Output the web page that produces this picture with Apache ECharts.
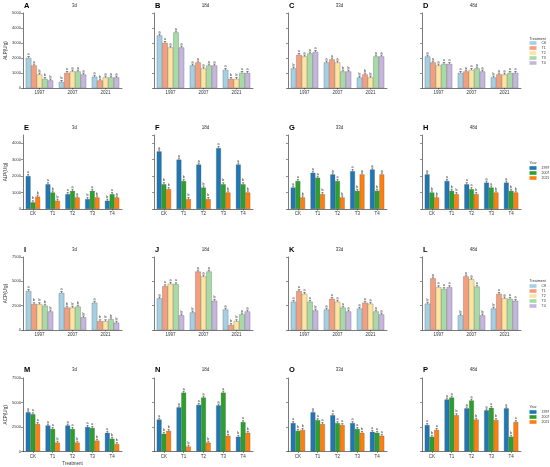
<!DOCTYPE html>
<html><head><meta charset="utf-8">
<script src="https://cdn.jsdelivr.net/npm/echarts@6/dist/echarts.min.js"></script>
<style>html,body{margin:0;padding:0;background:#fff}#c{width:550px;height:467px}</style>
</head><body><div id="c"></div>
<script>
const years = ['1997','2007','2021'];
const treatments = ['CK','T1','T2','T3','T4'];
const days = ['3d','18d','33d','48d'];
const panelTags = ['A','B','C','D','E','F','G','H','I','J','K','L','M','N','O','P'];
const yNames = ['ALP(U/g)','ALP(U/g)','ACP(U/g)','ACP(U/g)'];
const yMaxes = [5000,4500,7500,7500];
const yIntervals = [1000,1000,2500,2500];

// values: rows = CK,T1,T2,T3,T4 ; columns = 1997,2007,2021
const alp3d  = [[2000,400,750],[1500,1000,500],[900,1100,700],[600,1100,700],[500,900,700]];
const alp18d = [[3500,1500,1200],[3000,1700,600],[2700,1300,600],[3700,1500,1000],[2700,1500,1000]];
const alp33d = [[1300,1700,700],[2200,1900,900],[2100,1700,700],[2300,1100,2100],[2400,1100,2100]];
const alp48d = [[2100,1000,700],[1700,1100,900],[1500,1200,900],[1600,1300,1000],[1600,1100,1000]];
const acp3d  = [[4000,3800,2800],[2650,2300,900],[2650,2300,900],[2500,2400,1100],[1900,1300,750]];
const acp18d = [[3250,1800,2100],[4500,6000,500],[4750,5500,900],[4700,6000,1600],[1500,3000,1900]];
const acp33d = [[2900,2100,2200],[4000,3200,2800],[3700,2900,2700],[2900,2300,1900],[2000,1900,1600]];
const acp48d = [[2700,1500,2200],[5300,5500,3700],[4400,5200,3250],[4200,4450,3200],[4400,1500,3000]];

const errAlp = 100;
const errAcp = 150;

// significance letters, one string per category group
const lettersA = ['aabbb','baaaa','abaaa'];
const lettersB = ['aaaaa','aaaaa','abbaa'];
const lettersC = ['baaaa','aaabb','bbbaa'];
const lettersD = ['aaaaa','aaaaa','baaaa'];
const lettersE = ['abb','abb','aaa','bab','baa'];
const lettersF = ['abb','abb','abb','abb','abb'];
const lettersG = ['aab','aab','aab','aba','aba'];
const lettersH = ['abb','abb','aab','aab','abb'];
const lettersI = ['abbbb','abbbb','abbbb'];
const lettersJ = ['aaaab','baaab','abbaa'];
const lettersK = ['aaaab','aaaaa','aaaaa'];
const lettersL = ['baaaa','baaab','baaaa'];
const lettersM = ['aaa','aab','aab','aab','abb'];
const lettersN = ['abb','aab','aab','aab','bab'];
const lettersO = ['abb','aaa','aaa','aab','aaa'];
const lettersP = ['aba','aab','aab','aab','aba'];

const treatColors = ['#a5cfe3','#f59e7e','#fde4a0','#a6dba6','#c6b6de'];
const yearColors = ['#1f77b4','#2ca02c','#ff7f0e'];

const rowData = [
  [alp3d,alp18d,alp33d,alp48d],
  [alp3d,alp18d,alp33d,alp48d],
  [acp3d,acp18d,acp33d,acp48d],
  [acp3d,acp18d,acp33d,acp48d]
];
const rowLetters = [
  [lettersA,lettersB,lettersC,lettersD],
  [lettersE,lettersF,lettersG,lettersH],
  [lettersI,lettersJ,lettersK,lettersL],
  [lettersM,lettersN,lettersO,lettersP]
];
const rowErr = [errAlp, errAlp, errAcp, errAcp];

// layout
const colLeft = [23,154,288,422];
const gridW = 99;
const rowTop = [13,135,257,378];
const rowH = [75,74,73,73.5];
const titleY = [6,128,249.5,370];

const FONT = 'Liberation Sans, Arial, sans-serif';
const grids = [], xAxes = [], yAxes = [], series = [], graphics = [];

for (let r = 0; r < 4; r++) {
  for (let c = 0; c < 4; c++) {
    const gi = r*4 + c;
    const byTreat = (r % 2 === 0);
    const cats = byTreat ? years : treatments;
    const names = byTreat ? treatments : years;
    const colors = byTreat ? treatColors : yearColors;
    const gapRatio = byTreat ? 0.17 : 0.28;
    const tbl = rowData[r][c];
    const lts = rowLetters[r][c];
    const err = rowErr[r];
    grids.push({left: colLeft[c], top: rowTop[r], width: gridW, height: rowH[r]});
    xAxes.push({
      type:'category', gridIndex: gi, data: cats,
      axisLine:{show:true, lineStyle:{color:'#222', width:0.6}},
      axisTick:{show:true, alignWithLabel:true, length:1.5, lineStyle:{color:'#222', width:0.5}},
      axisLabel:{fontSize:4.5, margin:2.5, color:'#333', fontFamily: FONT},
      name: gi === 12 ? 'Treatment' : '', nameLocation:'middle', nameGap:9.5,
      nameTextStyle:{fontSize:4.5, color:'#333', fontFamily: FONT}
    });
    yAxes.push({
      type:'value', gridIndex: gi, min:0, max: yMaxes[r], interval: yIntervals[r],
      axisLine:{show:true, lineStyle:{color:'#222', width:0.6}},
      axisTick:{show:true, length:2, lineStyle:{color:'#222', width:0.5}},
      axisLabel:{show: c === 0, fontSize:4, margin:2, color:'#333', fontFamily: FONT,
                 showMaxLabel: r !== 1, formatter: v => String(v)},
      splitLine:{show:false},
      name: c === 0 ? yNames[r] : '', nameLocation:'middle', nameGap:13.5,
      nameTextStyle:{fontSize:4.5, color:'#333', fontFamily: FONT}
    });
    const n = names.length;
    for (let s = 0; s < n; s++) {
      const vals = byTreat ? tbl[s].slice() : tbl.map(row => row[s]);
      series.push({
        type:'bar', name: names[s], xAxisIndex: gi, yAxisIndex: gi, data: vals,
        barGap:'0%', barCategoryGap: (gapRatio*100) + '%',
        itemStyle:{color: colors[s], borderColor:'#555', borderWidth:0.3},
        animation:false
      });
      series.push({
        type:'custom', xAxisIndex: gi, yAxisIndex: gi,
        data: vals.map((v,i) => [i, v]), z: 5, animation:false, silent:true,
        renderItem: (params, api) => {
          const i = params.dataIndex;
          const v = vals[i];
          const p0 = api.coord([i, v]);
          const p1 = api.coord([i, v + err]);
          const band = api.size([1,0])[0];
          const groupW = band*(1-gapRatio);
          const bw = groupW/n;
          const x = p0[0] - groupW/2 + bw*(s+0.5);
          const cap = bw*0.22;
          const lt = lts[i].charAt(s);
          return {type:'group', children:[
            {type:'line', shape:{x1:x, y1:p0[1], x2:x, y2:p1[1]}, style:{stroke:'#222', lineWidth:0.5}},
            {type:'line', shape:{x1:x-cap, y1:p1[1], x2:x+cap, y2:p1[1]}, style:{stroke:'#222', lineWidth:0.5}},
            {type:'text', x:x, y:p1[1]-0.3, style:{text:lt, font:'3.6px ' + FONT, align:'center', verticalAlign:'bottom', fill:'#222'}}
          ]};
        }
      });
    }
    graphics.push({type:'text', x: colLeft[c] + 1, y: titleY[r], style:{text: panelTags[gi], font:'bold 7.5px ' + FONT, align:'left', verticalAlign:'middle', fill:'#000'}});
    graphics.push({type:'text', x: colLeft[c] + gridW/2 + 2, y: titleY[r], style:{text: days[c], font:'4.5px ' + FONT, align:'center', verticalAlign:'middle', fill:'#333'}});
  }
}

// legend titles
const legTitleY = [38.5, 163, 281, 407];
const legTitles = ['Treatment','Year','Treatment','Year'];
for (let r = 0; r < 4; r++) {
  graphics.push({type:'text', x: 529.5, y: legTitleY[r], style:{text: legTitles[r], font:'3.6px ' + FONT, align:'left', verticalAlign:'middle', fill:'#333'}});
}
const legTops = [41, 166, 284, 410];
const legends = legTops.map((t, r) => {
  const nm = (r % 2 === 0) ? treatments : years;
  const cl = (r % 2 === 0) ? treatColors : yearColors;
  return {
    data: nm.map((name, i) => ({name, icon:'rect', itemStyle:{color: cl[i], borderWidth:0, opacity:1}})),
    left: 529.5, top: t, orient:'vertical', padding:0,
    itemWidth:7, itemHeight:3.6, itemGap:1,
    itemStyle:{borderWidth:0},
    textStyle:{fontSize:3.5, lineHeight:4, color:'#333', fontFamily: FONT},
    selectedMode:false
  };
});

const chart = echarts.init(document.getElementById('c'), null, {renderer:'canvas'});
chart.setOption({
  backgroundColor:'#fff',
  animation:false,
  textStyle:{fontFamily: FONT},
  grid: grids, xAxis: xAxes, yAxis: yAxes, series: series,
  legend: legends, graphic: graphics, tooltip:{show:false}
});
</script></body></html>
